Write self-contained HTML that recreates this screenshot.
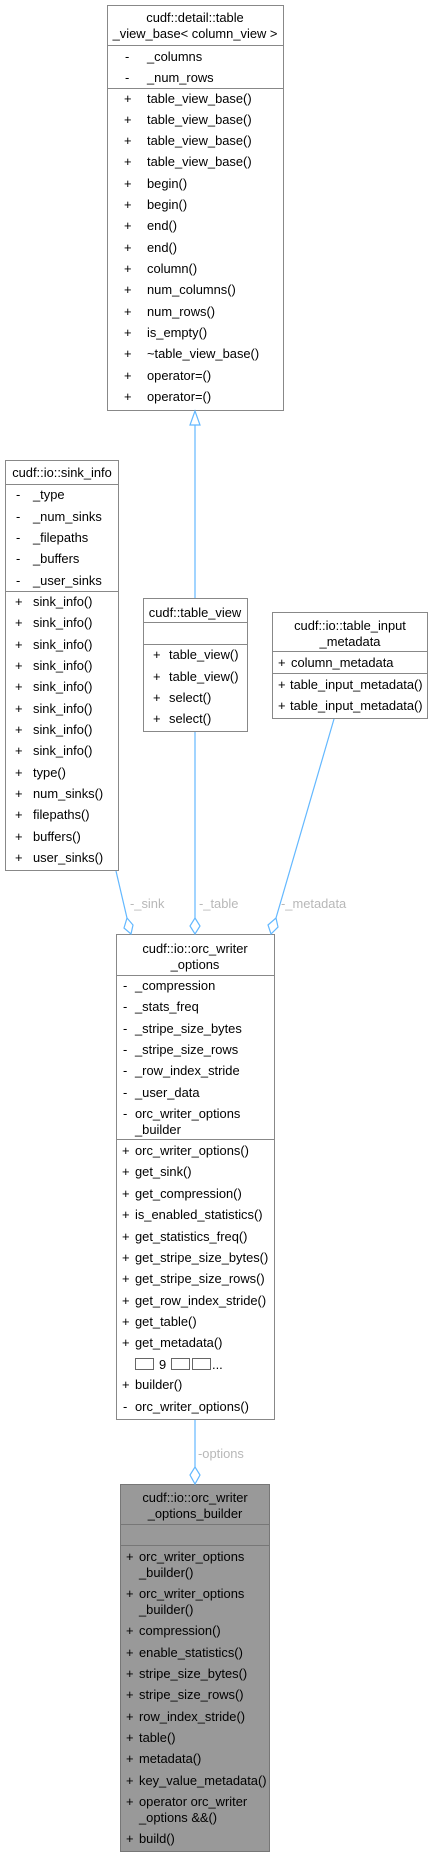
<!DOCTYPE html>
<html><head><meta charset="utf-8"><style>
html,body{margin:0;padding:0;background:#fff;}
svg{display:block;}
text{font-family:"Liberation Sans",sans-serif;font-size:12.9px;fill:#000;}
.l{fill:#b8b8b8;}
</style></head><body>
<svg width="433" height="1857" viewBox="0 0 433 1857" xmlns="http://www.w3.org/2000/svg">
<g fill="#fff" stroke="#888" stroke-width="1">
<rect x="107.5" y="5.5" width="176" height="405"/>
<line x1="107" y1="45.5" x2="284" y2="45.5"/>
<line x1="107" y1="88.5" x2="284" y2="88.5"/>
<rect x="5.5" y="460.5" width="113" height="410"/>
<line x1="5" y1="484.5" x2="119" y2="484.5"/>
<line x1="5" y1="591.5" x2="119" y2="591.5"/>
<rect x="143.5" y="598.5" width="104" height="133"/>
<line x1="143" y1="622.5" x2="248" y2="622.5"/>
<line x1="143" y1="644.5" x2="248" y2="644.5"/>
<rect x="272.5" y="612.5" width="155" height="106"/>
<line x1="272" y1="651.5" x2="428" y2="651.5"/>
<line x1="272" y1="673.5" x2="428" y2="673.5"/>
<rect x="116.5" y="934.5" width="158" height="485"/>
<line x1="116" y1="975.5" x2="275" y2="975.5"/>
<line x1="116" y1="1139.5" x2="275" y2="1139.5"/>
</g>
<g fill="#999" stroke="#777" stroke-width="1">
<rect x="120.5" y="1484.5" width="149" height="367"/>
<line x1="120" y1="1524.5" x2="270" y2="1524.5"/>
<line x1="120" y1="1545.5" x2="270" y2="1545.5"/>
</g>

<g stroke="#63b8ff" stroke-width="1.2" fill="#fff">
<line x1="195" y1="424" x2="195" y2="598"/>
<polygon points="195,411 190,425 200,425"/>
<line x1="195" y1="732" x2="195" y2="918"/>
<polygon points="195,918 200,926 195,934 190,926"/>
<line x1="116" y1="871" x2="127" y2="918"/>
<polygon points="127,918 133,925 131,934 124,928"/>
<line x1="334" y1="719" x2="276" y2="918"/>
<polygon points="276,918 278,927 271,934 268,925"/>
<line x1="195" y1="1420" x2="195" y2="1467"/>
<polygon points="195,1467 200,1475 195,1484 190,1475"/>
</g>
<text class="l" x="130" y="908">-_sink</text>
<text class="l" x="199" y="908">-_table</text>
<text class="l" x="281" y="908">-_metadata</text>
<text class="l" x="198" y="1458">-options</text>

<text x="195" y="22" text-anchor="middle">cudf::detail::table</text>
<text x="195" y="38" text-anchor="middle">_view_base&lt; column_view &gt;</text>
<text x="125" y="61">-</text><text x="147" y="61">_columns</text>
<text x="125" y="82">-</text><text x="147" y="82">_num_rows</text>
<text x="124" y="103">+</text><text x="147" y="103">table_view_base()</text>
<text x="124" y="124">+</text><text x="147" y="124">table_view_base()</text>
<text x="124" y="145">+</text><text x="147" y="145">table_view_base()</text>
<text x="124" y="166">+</text><text x="147" y="166">table_view_base()</text>
<text x="124" y="188">+</text><text x="147" y="188">begin()</text>
<text x="124" y="209">+</text><text x="147" y="209">begin()</text>
<text x="124" y="230">+</text><text x="147" y="230">end()</text>
<text x="124" y="252">+</text><text x="147" y="252">end()</text>
<text x="124" y="273">+</text><text x="147" y="273">column()</text>
<text x="124" y="294">+</text><text x="147" y="294">num_columns()</text>
<text x="124" y="316">+</text><text x="147" y="316">num_rows()</text>
<text x="124" y="337">+</text><text x="147" y="337">is_empty()</text>
<text x="124" y="358">+</text><text x="147" y="358">~table_view_base()</text>
<text x="124" y="380">+</text><text x="147" y="380">operator=()</text>
<text x="124" y="401">+</text><text x="147" y="401">operator=()</text>

<text x="62" y="477" text-anchor="middle">cudf::io::sink_info</text>
<text x="16" y="499">-</text><text x="33" y="499">_type</text>
<text x="16" y="521">-</text><text x="33" y="521">_num_sinks</text>
<text x="16" y="542">-</text><text x="33" y="542">_filepaths</text>
<text x="16" y="563">-</text><text x="33" y="563">_buffers</text>
<text x="16" y="585">-</text><text x="33" y="585">_user_sinks</text>
<text x="15" y="606">+</text><text x="33" y="606">sink_info()</text>
<text x="15" y="627">+</text><text x="33" y="627">sink_info()</text>
<text x="15" y="649">+</text><text x="33" y="649">sink_info()</text>
<text x="15" y="670">+</text><text x="33" y="670">sink_info()</text>
<text x="15" y="691">+</text><text x="33" y="691">sink_info()</text>
<text x="15" y="713">+</text><text x="33" y="713">sink_info()</text>
<text x="15" y="734">+</text><text x="33" y="734">sink_info()</text>
<text x="15" y="755">+</text><text x="33" y="755">sink_info()</text>
<text x="15" y="777">+</text><text x="33" y="777">type()</text>
<text x="15" y="798">+</text><text x="33" y="798">num_sinks()</text>
<text x="15" y="819">+</text><text x="33" y="819">filepaths()</text>
<text x="15" y="841">+</text><text x="33" y="841">buffers()</text>
<text x="15" y="862">+</text><text x="33" y="862">user_sinks()</text>

<text x="195" y="617" text-anchor="middle">cudf::table_view</text>
<text x="153" y="659">+</text><text x="169" y="659">table_view()</text>
<text x="153" y="681">+</text><text x="169" y="681">table_view()</text>
<text x="153" y="702">+</text><text x="169" y="702">select()</text>
<text x="153" y="723">+</text><text x="169" y="723">select()</text>

<text x="350" y="630" text-anchor="middle">cudf::io::table_input</text>
<text x="350" y="646" text-anchor="middle">_metadata</text>
<text x="278" y="667">+</text><text x="291" y="667">column_metadata</text>
<text x="278" y="689">+</text><text x="290" y="689">table_input_metadata()</text>
<text x="278" y="710">+</text><text x="290" y="710">table_input_metadata()</text>

<text x="195" y="953" text-anchor="middle">cudf::io::orc_writer</text>
<text x="195" y="969" text-anchor="middle">_options</text>
<text x="123" y="990">-</text><text x="135" y="990">_compression</text>
<text x="123" y="1011">-</text><text x="135" y="1011">_stats_freq</text>
<text x="123" y="1033">-</text><text x="135" y="1033">_stripe_size_bytes</text>
<text x="123" y="1054">-</text><text x="135" y="1054">_stripe_size_rows</text>
<text x="123" y="1075">-</text><text x="135" y="1075">_row_index_stride</text>
<text x="123" y="1097">-</text><text x="135" y="1097">_user_data</text>
<text x="123" y="1118">-</text><text x="135" y="1118">orc_writer_options</text>
<text x="135" y="1134">_builder</text>
<text x="122" y="1155">+</text><text x="135" y="1155">orc_writer_options()</text>
<text x="122" y="1176">+</text><text x="135" y="1176">get_sink()</text>
<text x="122" y="1198">+</text><text x="135" y="1198">get_compression()</text>
<text x="122" y="1219">+</text><text x="135" y="1219">is_enabled_statistics()</text>
<text x="122" y="1241">+</text><text x="135" y="1241">get_statistics_freq()</text>
<text x="122" y="1262">+</text><text x="135" y="1262">get_stripe_size_bytes()</text>
<text x="122" y="1283">+</text><text x="135" y="1283">get_stripe_size_rows()</text>
<text x="122" y="1305">+</text><text x="135" y="1305">get_row_index_stride()</text>
<text x="122" y="1326">+</text><text x="135" y="1326">get_table()</text>
<text x="122" y="1347">+</text><text x="135" y="1347">get_metadata()</text>
<g fill="#fff" stroke="#666" stroke-width="1">
<rect x="135.5" y="1358.5" width="18" height="11"/>
<rect x="171.5" y="1358.5" width="18" height="11"/>
<rect x="192.5" y="1358.5" width="18" height="11"/>
</g>
<text x="159" y="1369">9</text><text x="212" y="1369">...</text>
<text x="122" y="1389">+</text><text x="135" y="1389">builder()</text>
<text x="123" y="1411">-</text><text x="135" y="1411">orc_writer_options()</text>

<text x="195" y="1502" text-anchor="middle">cudf::io::orc_writer</text>
<text x="195" y="1518" text-anchor="middle">_options_builder</text>
<text x="126" y="1561">+</text><text x="139" y="1561">orc_writer_options</text>
<text x="139" y="1577">_builder()</text>
<text x="126" y="1598">+</text><text x="139" y="1598">orc_writer_options</text>
<text x="139" y="1614">_builder()</text>
<text x="126" y="1635">+</text><text x="139" y="1635">compression()</text>
<text x="126" y="1657">+</text><text x="139" y="1657">enable_statistics()</text>
<text x="126" y="1678">+</text><text x="139" y="1678">stripe_size_bytes()</text>
<text x="126" y="1699">+</text><text x="139" y="1699">stripe_size_rows()</text>
<text x="126" y="1721">+</text><text x="139" y="1721">row_index_stride()</text>
<text x="126" y="1742">+</text><text x="139" y="1742">table()</text>
<text x="126" y="1763">+</text><text x="139" y="1763">metadata()</text>
<text x="126" y="1785">+</text><text x="139" y="1785">key_value_metadata()</text>
<text x="126" y="1806">+</text><text x="139" y="1806">operator orc_writer</text>
<text x="139" y="1822">_options &amp;&amp;()</text>
<text x="126" y="1843">+</text><text x="139" y="1843">build()</text>
</svg>
</body></html>
